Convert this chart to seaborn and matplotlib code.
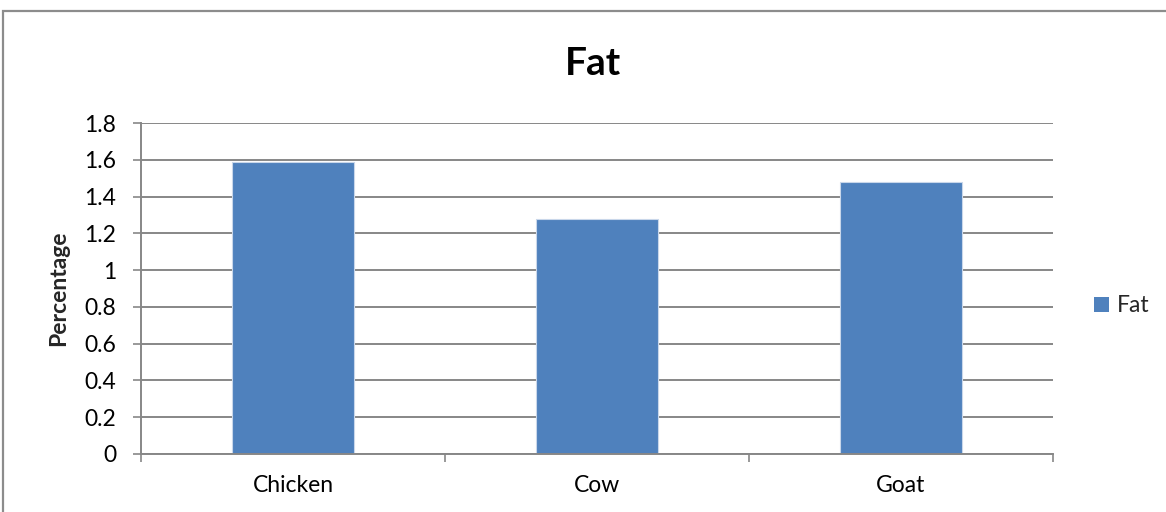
import matplotlib
matplotlib.use("Agg")
import matplotlib.pyplot as plt
from matplotlib.patches import Patch, Rectangle
import seaborn as sns
import pandas as pd

# Fat content by source
categories = ["Chicken", "Cow", "Goat"]
fat_values = [1.59, 1.28, 1.48]
y_ticks = [0, 0.2, 0.4, 0.6, 0.8, 1, 1.2, 1.4, 1.6, 1.8]
y_tick_labels = ["0", "0.2", "0.4", "0.6", "0.8", "1", "1.2", "1.4", "1.6", "1.8"]

sns.set_theme(style="white")
plt.rcParams["font.family"] = ["Lato", "DejaVu Sans"]

BAR_COLOR = "#4F81BD"
GRID_COLOR = "#878787"
LABEL_SIZE = 16.5

df = pd.DataFrame({"Source": categories, "Fat": fat_values})

fig = plt.figure(figsize=(11.66, 5.12), dpi=100)
fig.patch.set_facecolor("white")
ax = fig.add_axes([141 / 1166, 1 - 454 / 512, (1053 - 141) / 1166, (454 - 123) / 512])

sns.barplot(data=df, x="Source", y="Fat", color=BAR_COLOR, saturation=1,
            width=0.4, edgecolor="#C9D7EA", linewidth=0.8, ax=ax)

ax.set_xlim(-0.5, len(categories) - 0.5)
ax.set_ylim(0, 1.8)
ax.set_yticks(y_ticks)
ax.set_yticklabels(y_tick_labels)

# horizontal gridlines
ax.yaxis.grid(True, color=GRID_COLOR, linewidth=1.4)
ax.xaxis.grid(False)
ax.set_axisbelow(True)

for side in ["top", "right"]:
    ax.spines[side].set_visible(False)
for side in ["left", "bottom"]:
    ax.spines[side].set_visible(True)
    ax.spines[side].set_color(GRID_COLOR)
    ax.spines[side].set_linewidth(1.4)

# category separators as downward ticks
ax.set_xticks([i - 0.5 for i in range(len(categories) + 1)], minor=True)
ax.tick_params(axis="x", which="minor", direction="out", length=6, width=1.2,
               color=GRID_COLOR, bottom=True)
ax.tick_params(axis="x", which="major", length=0, pad=15, labelsize=LABEL_SIZE,
               labelcolor="black")
ax.tick_params(axis="y", which="major", direction="out", length=6, width=1.2,
               color=GRID_COLOR, left=True, pad=12, labelsize=LABEL_SIZE,
               labelcolor="black")

ax.set_xlabel("")
ax.set_ylabel("Percentage", fontsize=16.5, fontweight="bold")
ax.yaxis.set_label_coords(-0.079, 0.5)

fig.text(593 / 1166, 1 - 75 / 512, "Fat", ha="center", va="baseline",
         fontsize=28, fontweight="bold", color="black")

fig.legend(handles=[Patch(facecolor=BAR_COLOR, edgecolor="none", label="Fat")],
           loc="center left", bbox_to_anchor=(1094 / 1166, 1 - 306 / 512),
           frameon=False, fontsize=LABEL_SIZE, handlelength=0.65, handleheight=0.65,
           handletextpad=0.35, borderaxespad=0, borderpad=0)

# chart area border
fig.patches.append(Rectangle((3 / 1166, -0.1), 1.2, 1.1 - 11 / 512,
                             transform=fig.transFigure, fill=False,
                             edgecolor="#8C8C8C", linewidth=1.6))

fig.savefig("out.png", dpi=100, facecolor="white")
